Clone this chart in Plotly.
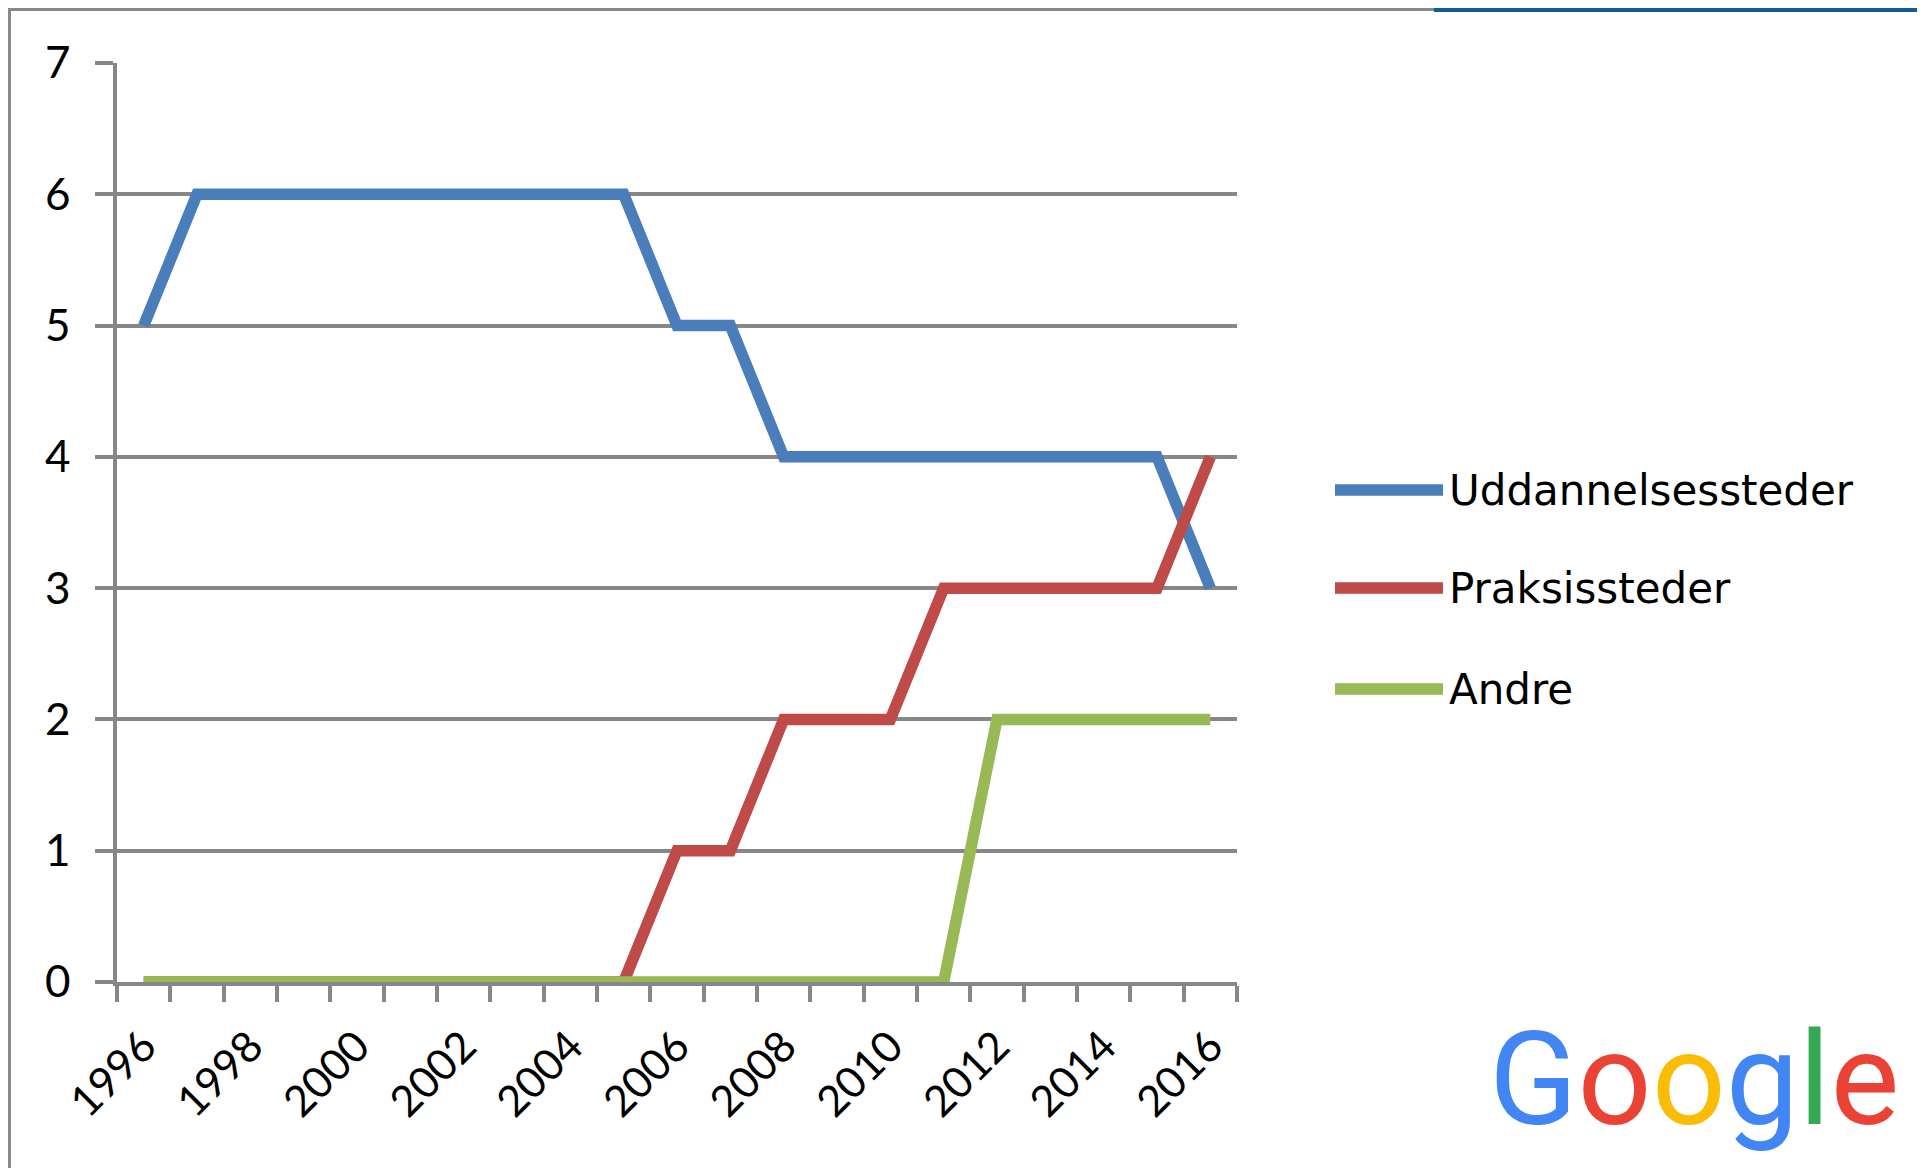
import plotly.graph_objects as go

# ---- data ----
years = list(range(1996, 2017))
uddannelsessteder = [5, 6, 6, 6, 6, 6, 6, 6, 6, 6, 5, 5, 4, 4, 4, 4, 4, 4, 4, 4, 3]
praksissteder =     [0, 0, 0, 0, 0, 0, 0, 0, 0, 0, 1, 1, 2, 2, 2, 3, 3, 3, 3, 3, 4]
andre =             [0, 0, 0, 0, 0, 0, 0, 0, 0, 0, 0, 0, 0, 0, 0, 0, 2, 2, 2, 2, 2]
series_names = ["Uddannelsessteder", "Praksissteder", "Andre"]
series_colors = ["#4A7EBB", "#BE4B48", "#98B954"]
x_tick_labels = [str(y) for y in range(1996, 2017, 2)]
y_ticks = list(range(0, 8))

# the page body has an 8px margin, so the figure is drawn 8px in from the top-left
OFF = 8
W, H = 1925 - OFF, 1168 - OFF
L, R, T, B = 117 - OFF, 1237 - OFF, 63 - OFF, 982 - OFF  # plot area in figure pixels
GRAY = "#878787"
FONT = "Lato"


def px(xs):
    """screenshot x pixel -> paper coordinate"""
    return (xs - OFF - L) / (R - L)


def py(ys):
    """screenshot y pixel -> paper coordinate"""
    return (B - (ys - OFF)) / (B - T)


fig = go.Figure()
for name, vals, col in zip(series_names, [uddannelsessteder, praksissteder, andre], series_colors):
    fig.add_trace(go.Scatter(x=years, y=vals, name=name, mode="lines",
                             line=dict(color=col, width=11.5), showlegend=False))

shapes = []
annotations = []

# outer frame
shapes.append(dict(type="rect", xref="paper", yref="paper",
                   x0=px(9), x1=px(1922), y0=py(1200), y1=py(OFF + 1),
                   line=dict(color="#898989", width=4), fillcolor="rgba(0,0,0,0)", layer="below"))
# blue strip at top right
shapes.append(dict(type="rect", xref="paper", yref="paper",
                   x0=px(1434), x1=px(1935), y0=py(OFF + 4), y1=py(OFF - 4),
                   line=dict(width=0), fillcolor="#0E5E92", layer="above"))

# manual legend
legend_rows = [490, 588, 689]
for name, col, yrow in zip(series_names, series_colors, legend_rows):
    shapes.append(dict(type="line", xref="paper", yref="paper",
                       x0=px(1335), x1=px(1443), y0=py(yrow), y1=py(yrow),
                       line=dict(color=col, width=11.5)))
    annotations.append(dict(xref="paper", yref="paper", x=px(1447), y=py(yrow),
                            xanchor="left", yanchor="middle", showarrow=False,
                            text=name, font=dict(family="DejaVu Sans", size=42, color="#000000")))

# Google logo
google_letters = ["G", "o", "o", "g", "l", "e"]
google_colors = ["#4285F4", "#EA4335", "#FBBC05", "#4285F4", "#34A853", "#EA4335"]
logo = "".join(f'<span style="color:{c}">{ch}</span>' for ch, c in zip(google_letters, google_colors))
annotations.append(dict(xref="paper", yref="paper", x=px(1694), y=py(1079),
                        xanchor="center", yanchor="middle", showarrow=False,
                        text=logo, font=dict(family="Roboto", size=130)))

fig.update_layout(
    width=W, height=H,
    margin=dict(l=L, r=W - R, t=T, b=H - B, pad=0),
    paper_bgcolor="white", plot_bgcolor="white",
    shapes=shapes, annotations=annotations,
    font=dict(family=FONT, size=44, color="#000000"),
    xaxis=dict(range=[1995.5, 2016.5], tickmode="array",
               tickvals=list(range(1996, 2017, 2)), ticktext=x_tick_labels,
               tickangle=-45, ticks="", showgrid=False, zeroline=False,
               showline=True, linecolor=GRAY, linewidth=3.5,
               ticklabelstandoff=18,
               tickfont=dict(family=FONT, size=43, color="#000000"),
               minor=dict(tickmode="array", tickvals=[y - 0.5 for y in range(1996, 2018)],
                          ticks="outside", ticklen=16, tickwidth=3.5, tickcolor=GRAY,
                          showgrid=False)),
    yaxis=dict(range=[0, 7], tickmode="array", tickvals=y_ticks,
               ticks="outside", ticklen=18, tickwidth=3.5, tickcolor=GRAY,
               showgrid=True, gridcolor=GRAY, gridwidth=3.5, zeroline=False,
               showline=True, linecolor=GRAY, linewidth=3.5,
               ticklabelstandoff=16,
               tickfont=dict(family=FONT, size=44, color="#000000")),
)

fig.write_html("out.html")
